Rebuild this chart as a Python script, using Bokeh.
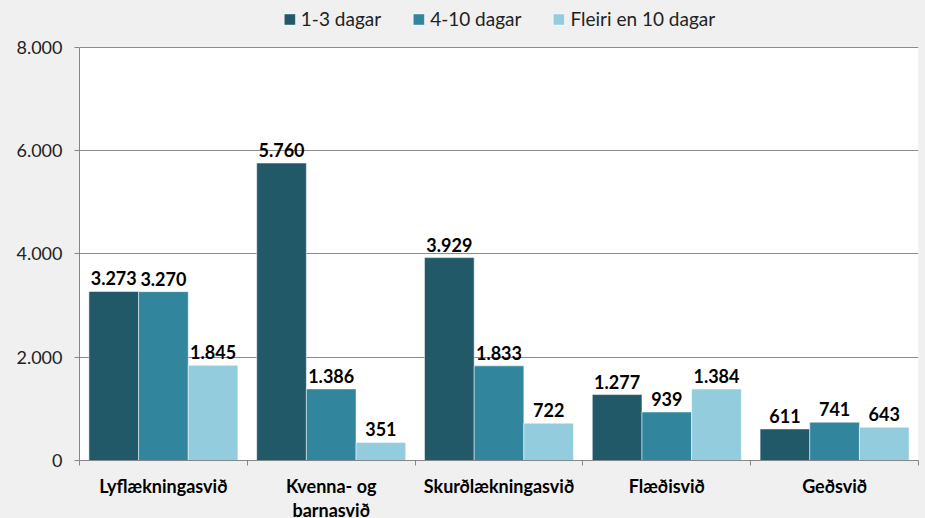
from bokeh.plotting import figure
from bokeh.models import (ColumnDataSource, FixedTicker, Range1d, Legend,
                          LegendItem, LabelSet, BoxAnnotation)
from bokeh.core.properties import value
from bokeh.embed import file_html
from bokeh.resources import INLINE

categories = ["Lyflækningasvið", "Kvenna- og\nbarnasvið", "Skurðlækningasvið",
              "Flæðisvið", "Geðsvið"]
series_names = ["1-3 dagar", "4-10 dagar", "Fleiri en 10 dagar"]
days_1_3 = [3273, 5760, 3929, 1277, 611]
days_4_10 = [3270, 1386, 1833, 939, 741]
days_10_plus = [1845, 351, 722, 1384, 643]
y_ticks = [0, 2000, 4000, 6000, 8000]

colors = ["#215968", "#31859c", "#93cddd"]
FONT = "Lato"
BG = "#f0f0f0"

def fmt(v):
    return f"{v:,}".replace(",", ".")

n = len(categories)
bar_w = 0.296
centers = [i + 0.5 for i in range(n)]

# layout: plot-area height 414px for 0..8000, with 47px headroom for the legend
y_max = y_ticks[-1]
y_top = y_max * (414 + 47) / 414

p = figure(width=925, height=523, x_range=Range1d(0, n), y_range=Range1d(0, y_top),
           output_backend="svg", toolbar_location=None,
           min_border_left=79, min_border_right=7, min_border_top=0,
           min_border_bottom=62)
p.background_fill_color = BG
p.border_fill_color = BG
p.outline_line_color = None
p.add_layout(BoxAnnotation(bottom=0, top=y_max, fill_color="white", fill_alpha=1,
                           line_color=None, level="image"))

series = [days_1_3, days_4_10, days_10_plus]
items = []
for k, (name, vals, col) in enumerate(zip(series_names, series, colors)):
    xs = [c + (k - 1) * bar_w for c in centers]
    src = ColumnDataSource(dict(x=xs, top=vals, label=[fmt(v) for v in vals]))
    r = p.vbar(x="x", top="top", width=bar_w, source=src, fill_color=col,
               line_color="white", line_width=0.5)
    items.append(LegendItem(label=name, renderers=[r]))
    labels = LabelSet(x="x", y="top", text="label", source=src, y_offset=6,
                      text_align="center", text_baseline="alphabetic",
                      text_font=value(FONT), text_font_style="bold",
                      text_font_size="18px", text_color="black")
    p.add_layout(labels)

legend = Legend(items=items, orientation="horizontal", location="top_center",
                glyph_width=14, glyph_height=14, label_standoff=5, spacing=30,
                padding=15, margin=7, background_fill_alpha=0,
                border_line_color=None, label_text_font=FONT,
                label_text_font_size="19px", label_text_color="#222222")
p.add_layout(legend, "center")

# y axis
yax = p.yaxis[0]
yax.ticker = FixedTicker(ticks=y_ticks)
yax.bounds = (0, y_max)
yax.major_label_overrides = {t: fmt(t) for t in y_ticks}
yax.major_tick_out = 5
yax.major_tick_in = 0
yax.minor_tick_out = 0
yax.minor_tick_in = 0
yax.axis_line_color = "#868686"
yax.major_tick_line_color = "#868686"
yax.major_label_text_font = FONT
yax.major_label_text_font_size = "18px"
yax.major_label_text_color = "#222222"
yax.major_label_standoff = 12

# x axis
xax = p.xaxis[0]
xax.ticker = FixedTicker(ticks=centers, minor_ticks=list(range(n + 1)))
xax.major_label_overrides = {c: cat for c, cat in zip(centers, categories)}
xax.major_tick_out = 0
xax.major_tick_in = 0
xax.minor_tick_out = 5
xax.minor_tick_in = 0
xax.minor_tick_line_color = "#868686"
xax.axis_line_color = "#868686"
xax.major_label_text_font = FONT
xax.major_label_text_font_style = "bold"
xax.major_label_text_font_size = "18px"
xax.major_label_text_line_height = 1.1
xax.major_label_text_color = "black"
xax.major_label_standoff = 9

p.xgrid.grid_line_color = None
p.ygrid.ticker = FixedTicker(ticks=y_ticks)
p.ygrid.grid_line_color = "#8c8c8c"

html = file_html(p, INLINE)
html = html.replace("</head>",
                    "<style>html,body{background:%s;overflow:hidden;}</style></head>" % BG)
open("out.html", "w").write(html)
